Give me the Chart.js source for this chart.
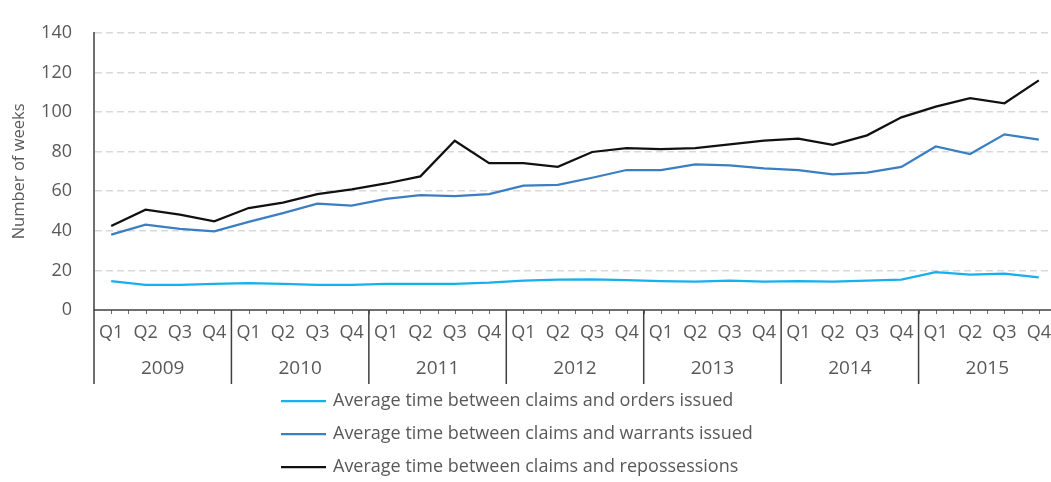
<!DOCTYPE html>
<html>
<head>
<meta charset="utf-8">
<script src="https://cdn.jsdelivr.net/npm/chart.js@4"></script>
<style>
  html, body { margin: 0; padding: 0; background: #fff; overflow: hidden; }
  #wrap { width: 1056px; height: 482px; }
</style>
</head>
<body>
<div id="wrap"><canvas id="myChart" width="1056" height="482"></canvas></div>
<script>
// Data
const years = ['2009', '2010', '2011', '2012', '2013', '2014', '2015'];
const quarters = ['Q1', 'Q2', 'Q3', 'Q4'];
const yTicks = [0, 20, 40, 60, 80, 100, 120, 140];

const ordersIssued = [14.6, 12.7, 12.7, 13.2, 13.6, 13.2, 12.7, 12.7, 13.2, 13.2,
  13.2, 13.8, 14.8, 15.3, 15.5, 15.1, 14.6, 14.3, 14.8,
  14.3, 14.6, 14.3, 14.8, 15.3, 19.1, 17.9, 18.4, 16.5];
const warrantsIssued = [38.1, 43.1, 41.0, 39.7, 44.5, 48.9, 53.7, 52.7, 56.1, 58.0,
  57.5, 58.5, 62.8, 63.2, 66.8, 70.7, 70.7, 73.6, 73.1,
  71.5, 70.7, 68.5, 69.4, 72.3, 82.6, 78.8, 88.7, 86.0];
const repossessions = [42.4, 50.7, 48.2, 44.8, 51.5, 54.2, 58.5, 60.9, 63.9, 67.5,
  85.5, 74.2, 74.2, 72.3, 79.8, 81.8, 81.2, 81.8, 83.6,
  85.5, 86.5, 83.4, 88.2, 97.3, 102.7, 107.0, 104.4, 116.0];

const seriesNames = [
  'Average time between claims and orders issued',
  'Average time between claims and warrants issued',
  'Average time between claims and repossessions'
];

const labels = [];
years.forEach(() => quarters.forEach(q => labels.push(q)));

const textColor = '#595959';
const axisColor = '#6e6e6e';
const fontFamily = '"Open Sans", sans-serif';

// year rows, separators and small ticks under the x axis
const yearAxisPlugin = {
  id: 'yearAxis',
  afterDraw(chart) {
    const ctx = chart.ctx;
    const x = chart.scales.x;
    const area = chart.chartArea;
    const step = x.getPixelForValue(1) - x.getPixelForValue(0);
    ctx.save();
    // small ticks at centres and boundaries
    ctx.strokeStyle = axisColor;
    ctx.lineWidth = 1;
    ctx.beginPath();
    for (let i = 0; i < labels.length * 2; i++) {
      const px = Math.round(x.getPixelForValue(0) + i * step / 2) + 0.5;
      ctx.moveTo(px, area.bottom);
      ctx.lineTo(px, area.bottom + 4);
    }
    ctx.stroke();
    // year separators
    ctx.strokeStyle = '#404040';
    ctx.lineWidth = 1.5;
    ctx.beginPath();
    for (let i = 0; i <= years.length; i++) {
      const px = x.getPixelForValue(i * 4) - step / 2;
      ctx.moveTo(px, area.bottom);
      ctx.lineTo(px, area.bottom + 74);
    }
    ctx.stroke();
    // x axis line
    ctx.beginPath();
    ctx.moveTo(area.left, area.bottom);
    ctx.lineTo(area.right, area.bottom);
    ctx.stroke();
    // year labels
    ctx.fillStyle = textColor;
    ctx.font = '19px ' + fontFamily;
    ctx.textAlign = 'center';
    ctx.textBaseline = 'middle';
    years.forEach((y, i) => {
      const cx = (x.getPixelForValue(i * 4) + x.getPixelForValue(i * 4 + 3)) / 2;
      ctx.fillText(y, cx, area.bottom + 59);
    });
    ctx.restore();
  }
};

// vertical legend under the chart
const legendPlugin = {
  id: 'stackLegend',
  afterDraw(chart) {
    const ctx = chart.ctx;
    ctx.save();
    ctx.font = '18px ' + fontFamily;
    ctx.textAlign = 'left';
    ctx.textBaseline = 'middle';
    chart.data.datasets.forEach((ds, i) => {
      const y = 401 + i * 33;
      ctx.strokeStyle = ds.borderColor;
      ctx.lineWidth = 2.25;
      ctx.beginPath();
      ctx.moveTo(281, y);
      ctx.lineTo(326, y);
      ctx.stroke();
      ctx.fillStyle = textColor;
      ctx.fillText(ds.label, 333, y);
    });
    ctx.restore();
  }
};

const ctx = document.getElementById('myChart').getContext('2d');
const myChart = new Chart(ctx, {
  type: 'line',
  data: {
    labels: labels,
    datasets: [
      { label: seriesNames[0], data: ordersIssued, borderColor: '#16b0ee' },
      { label: seriesNames[1], data: warrantsIssued, borderColor: '#3a7fc4' },
      { label: seriesNames[2], data: repossessions, borderColor: '#111111' }
    ]
  },
  options: {
    responsive: false,
    animation: false,
    layout: { padding: { top: 16, right: 0, bottom: 0, left: 0 } },
    elements: {
      line: { borderWidth: 2.25, tension: 0 },
      point: { radius: 0 }
    },
    plugins: {
      legend: { display: false },
      tooltip: { enabled: false }
    },
    scales: {
      x: {
        offset: true,
        grid: { display: false },
        border: { display: false },
        ticks: {
          color: textColor,
          font: { family: fontFamily, size: 18 },
          padding: 4,
          maxRotation: 0,
          autoSkip: false
        },
        afterFit: scale => { scale.height = 172; }
      },
      y: {
        min: 0,
        max: 140,
        afterBuildTicks: scale => { scale.ticks = yTicks.map(v => ({ value: v })); },
        grid: {
          drawTicks: false,
          color: c => c.tick && c.tick.value === 0 ? 'rgba(0,0,0,0)' : '#d9d9d9',
          lineWidth: 1.5
        },
        border: { display: true, color: axisColor, width: 2, dash: [7, 4] },
        ticks: {
          color: textColor,
          font: { family: fontFamily, size: 18 },
          padding: 22
        },
        title: {
          display: true,
          text: 'Number of weeks',
          color: textColor,
          font: { family: fontFamily, size: 16.5 },
          padding: { top: 9, bottom: 0 }
        },
        afterFit: scale => { scale.width = 94; }
      }
    }
  },
  plugins: [yearAxisPlugin, legendPlugin]
});
</script>
</body>
</html>
